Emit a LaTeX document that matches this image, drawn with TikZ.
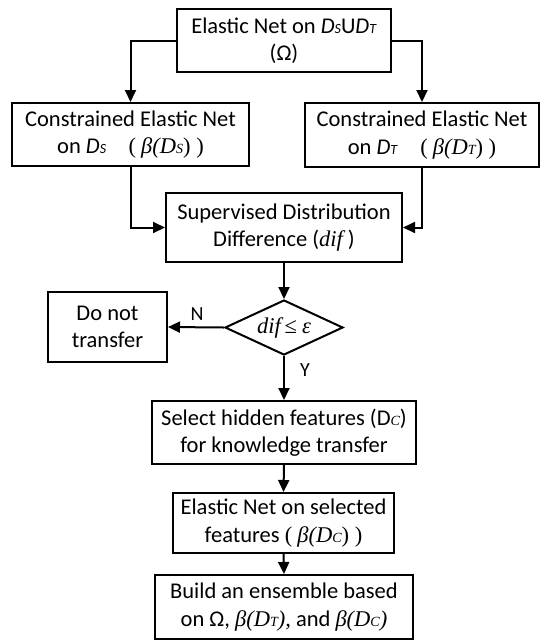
\documentclass[tikz,border=0pt]{standalone}
\usepackage{fontspec}
\setmainfont{Carlito}
\newfontfamily\tmsfont{Liberation Serif}
\usetikzlibrary{arrows.meta,shapes.geometric}
% small letter used as an index (D_S, D_T, D_C)
\newcommand\smsub[1]{{\fontsize{14pt}{14pt}\selectfont #1}}
% serif italic for the formula parts
\newcommand\tmi[1]{{\tmsfont\itshape #1}}
% serif upright (brackets round the formulas)
\newcommand\tmu[1]{{\tmsfont #1}}
\tikzset{
  box/.style={draw, line width=2pt, rectangle, inner sep=0pt, align=center,
              font=\fontsize{22.5pt}{27.5pt}\selectfont},
  decision/.style={draw, line width=2pt, diamond, inner sep=0pt, aspect=2.15,
              font=\fontsize{22.5pt}{27.5pt}\selectfont},
  arr/.style={line width=2pt, -{Triangle[length=12pt,width=11pt]}},
  lbl/.style={font=\fontsize{20pt}{24pt}\selectfont, inner sep=0pt}
}
\begin{document}
\begin{tikzpicture}[x=1pt,y=-1pt]
\useasboundingbox (0,0) rectangle (540,641);

\node[box, minimum width=214pt, minimum height=63pt] (top) at (284,40.5)
  {Elastic Net on \textit{D}\smsub{\textit{S}}U\textit{D}\smsub{\textit{T}}\\(Ω)};
\node[box, minimum width=237pt, minimum height=63pt] (left) at (130.5,134.5)
  {Constrained Elastic Net\\on \textit{D}\smsub{\textit{S}}\quad\tmu{(} \tmi{β(D\smsub{S}}\tmu{) )}};
\node[box, minimum width=234pt, minimum height=64pt] (right) at (422,135)
  {Constrained Elastic Net\\on \textit{D}\smsub{\textit{T}}\quad\tmu{(} \tmi{β(D\smsub{T}}\tmu{) )}};
\node[box, minimum width=236pt, minimum height=69pt] (sup) at (284,227.5)
  {Supervised Distribution\\Difference (\tmi{dif} )};
\node[decision, minimum width=118pt, minimum height=55pt] (dec) at (284,327.5)
  {\tmi{dif}\,{\tmsfont ≤} \tmi{ε}};
\node[box, minimum width=119pt, minimum height=70pt] (no) at (107.5,327)
  {Do not\\transfer};
\node[box, minimum width=264pt, minimum height=63pt] (sel) at (284,432.5)
  {Select hidden features (D\smsub{\tmi{C}})\\for knowledge transfer};
\node[box, minimum width=221pt, minimum height=60pt] (enet) at (283.5,523)
  {Elastic Net on selected\\features \tmu{(} \tmi{β(D\smsub{C}}\tmu{) )}};
\node[box, minimum width=258pt, minimum height=64pt] (ens) at (284,607)
  {Build an ensemble based\\on Ω, \tmi{β(D\smsub{T}),} and \tmi{β(D\smsub{C})}};

\draw[arr] (top.west) -| (left.north);
\draw[arr] (top.east) -| (right.north);
\draw[arr] (left.south) |- (sup.west);
\draw[arr] (right.south) |- (sup.east);
\draw[arr] (sup.south) -- (dec.north);
\draw[arr] (dec.west) -- (no.east);
\draw[arr] (dec.south) -- (sel.north);
\draw[arr] (sel.south) -- (enet.north);
\draw[arr] (enet.south) -- (ens.north);

\node[lbl] (nlbl) at (197,314) {N};
\node[lbl] (ylbl) at (305,370) {Y};
\end{tikzpicture}
\end{document}
